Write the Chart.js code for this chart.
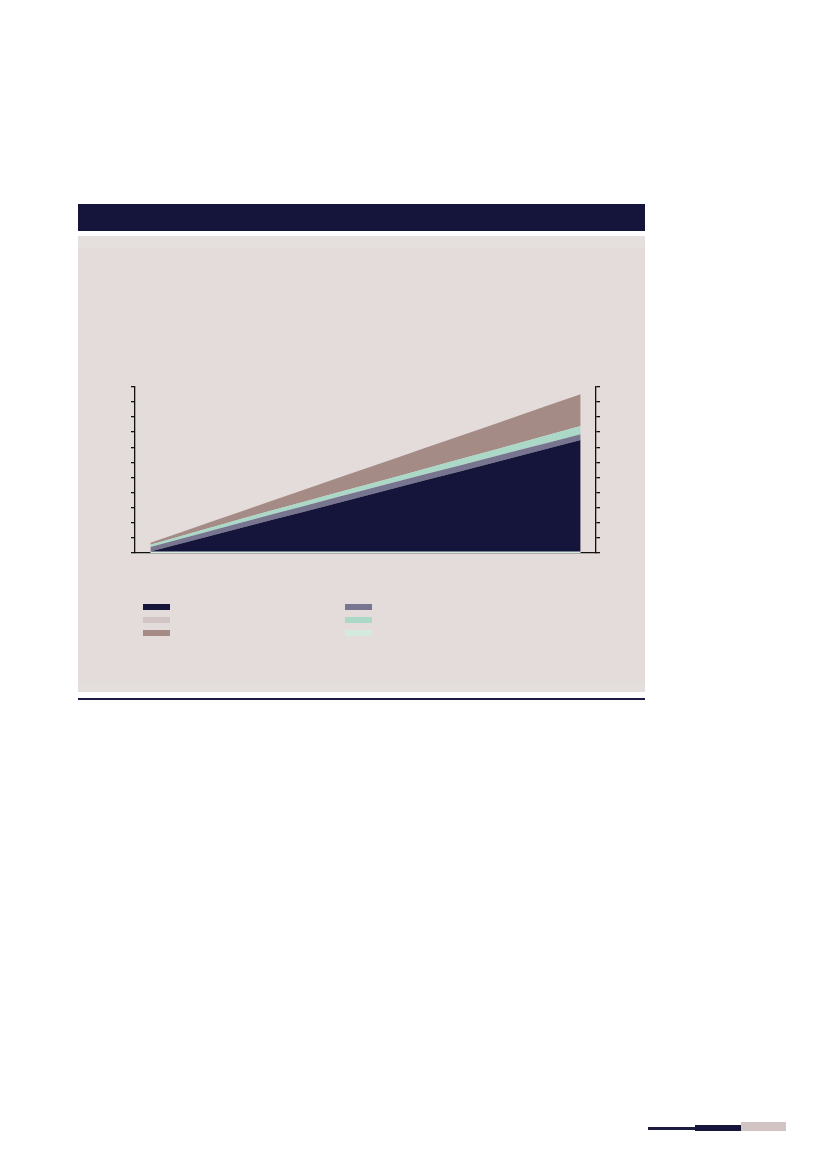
<!DOCTYPE html>
<html>
<head>
<meta charset="utf-8">
<script src="https://cdn.jsdelivr.net/npm/chart.js@4.4.0/dist/chart.umd.min.js"></script>
<style>
  html, body { margin: 0; padding: 0; background: #ffffff; }
  body { width: 827px; height: 1169px; position: relative; overflow: hidden; font-family: "Noto Sans", sans-serif; }
  .header-bar { position: absolute; left: 78px; top: 204px; width: 567px; height: 27px; background: #15153b; }
  .panel { position: absolute; left: 78px; top: 236px; width: 567px; height: 456px; background: #e3dcdb; }
  .panel-top { position: absolute; left: 0; top: 0; width: 100%; height: 12px; background: #e5e0de; }
  .panel-bottom { position: absolute; left: 0; bottom: 0; width: 100%; height: 9px; background: #e4dfdc; }
  .rule { position: absolute; left: 78px; top: 698px; width: 567px; height: 2px; background: #1c1c42; }
  .chart-box { position: absolute; left: 100px; top: 380px; width: 540px; height: 190px; }
  .swatch { position: absolute; width: 27px; height: 6px; }
  .deco { position: absolute; }
</style>
</head>
<body>
<div class="header-bar"></div>
<div class="panel"><div class="panel-top"></div><div class="panel-bottom"></div></div>
<div class="rule"></div>
<div class="chart-box"><canvas id="stackChart"></canvas></div>
<div id="legend"></div>
<div class="deco" style="left:648px; top:1127px; width:47px; height:3px; background:#1c1c42;"></div>
<div class="deco" style="left:695px; top:1125px; width:46px; height:6px; background:#15153b;"></div>
<div class="deco" style="left:741px; top:1122px; width:45px; height:9px; background:#d3c4c4;"></div>

<script>
// Categorias (passos do eixo x)
const steps = ['1', '2', '3', '4', '5', '6', '7', '8', '9', '10', '11', '12', '13', '14', '15'];

// Séries empilhadas, de baixo para cima
const navySeries  = [1, 6.3, 11.5, 16.8, 22.1, 27.3, 32.6, 37.8, 43.1, 48.4, 53.6, 58.9, 64.2, 69.4, 74.7];
const slateSeries = [3, 3.2, 3.4, 3.6, 3.7, 3.8, 3.9, 4, 4, 4, 4, 3.9, 3.9, 3.8, 3.8];
const pinkSeries  = [0, 0, 0, 0, 0, 0, 0, 0, 0, 0, 0, 0, 0, 0, 0];
const mintSeries  = [1.5, 1.8, 2.1, 2.4, 2.6, 2.8, 3, 3.2, 3.4, 3.7, 4, 4.3, 4.7, 5.1, 5.5];
const taupeSeries = [1.3, 2.5, 3.8, 5, 6.5, 8, 9.4, 10.9, 12.4, 13.8, 15.3, 16.8, 18.2, 19.7, 21];
const baseSeries  = [0, 0, 0, 0, 0, 0, 0, 0, 0, 0, 0, 0, 0, 0, 0];

// Eixo y
const yMin = 0;
const yMax = 110;
const yStep = 10;

const colors = {
    navy: '#15153b',
    slate: '#77758f',
    pink: '#d2c4c4',
    mint: '#acd8c8',
    taupe: '#a48b86',
    lightMint: '#d4e9df'
};

// Legenda (só amostras de cor, sem texto)
const legendItems = [
    { color: colors.navy, left: 143, top: 604 },
    { color: colors.pink, left: 143, top: 617 },
    { color: colors.taupe, left: 143, top: 630 },
    { color: colors.slate, left: 345, top: 604 },
    { color: colors.mint, left: 345, top: 617 },
    { color: colors.lightMint, left: 345, top: 630 }
];

function renderLegend() {
    const legend = document.getElementById('legend');
    legendItems.forEach(item => {
        const sw = document.createElement('div');
        sw.className = 'swatch';
        sw.style.left = item.left + 'px';
        sw.style.top = item.top + 'px';
        sw.style.background = item.color;
        legend.appendChild(sw);
    });
}

function area(label, data, color, fill) {
    return {
        label: label,
        data: data,
        stack: 'main',
        backgroundColor: color,
        borderColor: color,
        borderWidth: 0,
        pointRadius: 0,
        tension: 0,
        fill: fill
    };
}

function createChart() {
    const ctx = document.getElementById('stackChart').getContext('2d');
    const axisColor = '#111111';
    new Chart(ctx, {
        type: 'line',
        data: {
            labels: steps,
            datasets: [
                area('A', navySeries, colors.navy, 'origin'),
                area('B', slateSeries, colors.slate, '-1'),
                area('C', pinkSeries, colors.pink, '-1'),
                area('D', mintSeries, colors.mint, '-1'),
                area('E', taupeSeries, colors.taupe, '-1'),
                {
                    label: 'F',
                    data: baseSeries,
                    stack: 'base',
                    order: -1,
                    borderColor: colors.lightMint,
                    backgroundColor: colors.lightMint,
                    borderWidth: 3,
                    pointRadius: 0,
                    fill: false
                }
            ]
        },
        options: {
            responsive: true,
            maintainAspectRatio: false,
            animation: false,
            layout: { padding: { top: 6.7, left: 0, right: 0, bottom: 0 } },
            plugins: {
                legend: { display: false },
                tooltip: { enabled: false }
            },
            scales: {
                x: {
                    type: 'category',
                    offset: true,
                    ticks: { display: false },
                    grid: { display: true, drawOnChartArea: false, drawTicks: false },
                    border: { display: true, color: axisColor, width: 1.3 },
                    afterFit: scale => { scale.height = 17; }
                },
                y: {
                    position: 'left',
                    stacked: true,
                    min: yMin,
                    max: yMax,
                    ticks: { display: false, stepSize: yStep },
                    grid: { drawOnChartArea: false, drawTicks: true, tickLength: 4, color: axisColor, lineWidth: 1.3 },
                    border: { display: true, color: axisColor, width: 1.3 },
                    afterFit: scale => { scale.width = 35; }
                },
                y2: {
                    position: 'right',
                    min: yMin,
                    max: yMax,
                    ticks: { display: false, stepSize: yStep },
                    grid: { drawOnChartArea: false, drawTicks: true, tickLength: 4, color: axisColor, lineWidth: 1.3 },
                    border: { display: true, color: axisColor, width: 1.3 },
                    afterFit: scale => { scale.width = 44; }
                }
            }
        }
    });
}

document.addEventListener('DOMContentLoaded', function() {
    renderLegend();
    createChart();
});
</script>
</body>
</html>
